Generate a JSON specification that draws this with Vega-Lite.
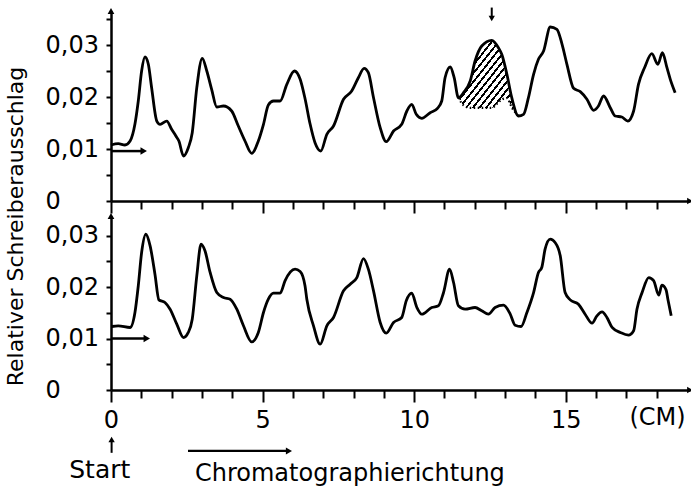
{
  "$schema": "https://vega.github.io/schema/vega-lite/v6.json",
  "autosize": {"type": "pad"},
  "padding": {"left": 3, "top": 6, "right": 0, "bottom": 0},
  "background": "white",
  "datasets": {
    "oben": [
      {"cm": 0.00, "wert": 0.01077}, {"cm": 0.24, "wert": 0.01102}, {"cm": 0.46, "wert": 0.01077}, {"cm": 0.63, "wert": 0.01154},
      {"cm": 0.79, "wert": 0.01481}, {"cm": 0.90, "wert": 0.01923}, {"cm": 1.01, "wert": 0.0250}, {"cm": 1.12, "wert": 0.02769},
      {"cm": 1.23, "wert": 0.02635}, {"cm": 1.34, "wert": 0.02179}, {"cm": 1.51, "wert": 0.01538}, {"cm": 1.62, "wert": 0.01475},
      {"cm": 1.84, "wert": 0.01538}, {"cm": 2.00, "wert": 0.01379}, {"cm": 2.14, "wert": 0.0125}, {"cm": 2.24, "wert": 0.01154},
      {"cm": 2.39, "wert": 0.00865}, {"cm": 2.55, "wert": 0.01025}, {"cm": 2.68, "wert": 0.01313}, {"cm": 2.83, "wert": 0.02179},
      {"cm": 3.01, "wert": 0.02744}, {"cm": 3.16, "wert": 0.0250}, {"cm": 3.32, "wert": 0.02148}, {"cm": 3.49, "wert": 0.01808},
      {"cm": 3.71, "wert": 0.01827}, {"cm": 3.98, "wert": 0.01731}, {"cm": 4.20, "wert": 0.01442}, {"cm": 4.42, "wert": 0.01154},
      {"cm": 4.64, "wert": 0.00917}, {"cm": 4.86, "wert": 0.01154}, {"cm": 5.03, "wert": 0.01475}, {"cm": 5.19, "wert": 0.01846},
      {"cm": 5.36, "wert": 0.01923}, {"cm": 5.58, "wert": 0.01923}, {"cm": 5.80, "wert": 0.02244}, {"cm": 6.05, "wert": 0.0250},
      {"cm": 6.24, "wert": 0.0234}, {"cm": 6.40, "wert": 0.01971}, {"cm": 6.57, "wert": 0.01475}, {"cm": 6.73, "wert": 0.01121},
      {"cm": 6.92, "wert": 0.00962}, {"cm": 7.12, "wert": 0.01283}, {"cm": 7.34, "wert": 0.01442}, {"cm": 7.67, "wert": 0.01956},
      {"cm": 7.94, "wert": 0.02115}, {"cm": 8.16, "wert": 0.02371}, {"cm": 8.35, "wert": 0.02552}, {"cm": 8.49, "wert": 0.02467},
      {"cm": 8.66, "wert": 0.01987}, {"cm": 8.88, "wert": 0.0141}, {"cm": 9.08, "wert": 0.0114}, {"cm": 9.32, "wert": 0.01346},
      {"cm": 9.59, "wert": 0.01475}, {"cm": 9.76, "wert": 0.01731}, {"cm": 9.92, "wert": 0.0186}, {"cm": 10.07, "wert": 0.01667},
      {"cm": 10.25, "wert": 0.0159}, {"cm": 10.53, "wert": 0.01698}, {"cm": 10.77, "wert": 0.01783}, {"cm": 10.91, "wert": 0.01923},
      {"cm": 11.02, "wert": 0.02371}, {"cm": 11.19, "wert": 0.02577}, {"cm": 11.32, "wert": 0.02371}, {"cm": 11.46, "wert": 0.01987},
      {"cm": 11.63, "wert": 0.02083}, {"cm": 11.85, "wert": 0.02308}, {"cm": 12.01, "wert": 0.02692}, {"cm": 12.23, "wert": 0.02981},
      {"cm": 12.56, "wert": 0.0309}, {"cm": 12.78, "wert": 0.02948}, {"cm": 12.89, "wert": 0.02821}, {"cm": 13.06, "wert": 0.02437},
      {"cm": 13.22, "wert": 0.01987}, {"cm": 13.44, "wert": 0.01635}, {"cm": 13.61, "wert": 0.01667}, {"cm": 13.77, "wert": 0.01987},
      {"cm": 13.94, "wert": 0.02437}, {"cm": 14.10, "wert": 0.02725}, {"cm": 14.27, "wert": 0.02885}, {"cm": 14.49, "wert": 0.03346},
      {"cm": 14.71, "wert": 0.03302}, {"cm": 14.88, "wert": 0.03013}, {"cm": 15.04, "wert": 0.02629}, {"cm": 15.26, "wert": 0.02167},
      {"cm": 15.48, "wert": 0.02102}, {"cm": 15.70, "wert": 0.01956}, {"cm": 15.92, "wert": 0.01744}, {"cm": 16.08, "wert": 0.01827},
      {"cm": 16.25, "wert": 0.02019}, {"cm": 16.47, "wert": 0.01794}, {"cm": 16.63, "wert": 0.01635}, {"cm": 16.85, "wert": 0.01615},
      {"cm": 17.05, "wert": 0.01538}, {"cm": 17.24, "wert": 0.01731}, {"cm": 17.40, "wert": 0.02244}, {"cm": 17.60, "wert": 0.02563},
      {"cm": 17.84, "wert": 0.02833}, {"cm": 18.04, "wert": 0.02629}, {"cm": 18.19, "wert": 0.02852}, {"cm": 18.34, "wert": 0.02563},
      {"cm": 18.45, "wert": 0.0234}, {"cm": 18.61, "wert": 0.02083}
    ],
    "flaeche": [
      {"cm": 11.46, "wert": 0.01987, "basis": 0.01987}, {"cm": 11.63, "wert": 0.02083, "basis": 0.0184},
      {"cm": 11.85, "wert": 0.02308, "basis": 0.0179}, {"cm": 12.01, "wert": 0.02692, "basis": 0.0179},
      {"cm": 12.23, "wert": 0.02981, "basis": 0.0179}, {"cm": 12.56, "wert": 0.0309, "basis": 0.0179},
      {"cm": 12.78, "wert": 0.02948, "basis": 0.0190}, {"cm": 12.89, "wert": 0.02821, "basis": 0.0195},
      {"cm": 13.06, "wert": 0.02437, "basis": 0.0198}, {"cm": 13.22, "wert": 0.01987, "basis": 0.0180},
      {"cm": 13.44, "wert": 0.01635, "basis": 0.01635}
    ],
    "unten": [
      {"cm": 0.02, "wert": 0.01233}, {"cm": 0.24, "wert": 0.01247}, {"cm": 0.63, "wert": 0.01214}, {"cm": 0.79, "wert": 0.01505},
      {"cm": 0.90, "wert": 0.02023}, {"cm": 1.01, "wert": 0.0267}, {"cm": 1.15, "wert": 0.03025}, {"cm": 1.29, "wert": 0.028},
      {"cm": 1.45, "wert": 0.02249}, {"cm": 1.58, "wert": 0.01751}, {"cm": 1.78, "wert": 0.01699}, {"cm": 1.95, "wert": 0.01569},
      {"cm": 2.17, "wert": 0.01278}, {"cm": 2.39, "wert": 0.01019}, {"cm": 2.55, "wert": 0.01117}, {"cm": 2.68, "wert": 0.01375},
      {"cm": 2.83, "wert": 0.02217}, {"cm": 2.97, "wert": 0.02831}, {"cm": 3.10, "wert": 0.02703}, {"cm": 3.27, "wert": 0.02282},
      {"cm": 3.49, "wert": 0.01893}, {"cm": 3.71, "wert": 0.01796}, {"cm": 3.93, "wert": 0.01763}, {"cm": 4.15, "wert": 0.01569},
      {"cm": 4.37, "wert": 0.01247}, {"cm": 4.64, "wert": 0.00936}, {"cm": 4.86, "wert": 0.01117}, {"cm": 5.03, "wert": 0.01505},
      {"cm": 5.19, "wert": 0.01763}, {"cm": 5.36, "wert": 0.0188}, {"cm": 5.58, "wert": 0.0188}, {"cm": 5.74, "wert": 0.0212},
      {"cm": 6.07, "wert": 0.02346}, {"cm": 6.24, "wert": 0.02301}, {"cm": 6.40, "wert": 0.02023}, {"cm": 6.46, "wert": 0.01763},
      {"cm": 6.68, "wert": 0.01247}, {"cm": 6.90, "wert": 0.00889}, {"cm": 7.12, "wert": 0.01247}, {"cm": 7.34, "wert": 0.01408},
      {"cm": 7.67, "wert": 0.01926}, {"cm": 7.89, "wert": 0.02054}, {"cm": 8.11, "wert": 0.02184}, {"cm": 8.33, "wert": 0.02553},
      {"cm": 8.49, "wert": 0.02346}, {"cm": 8.66, "wert": 0.01926}, {"cm": 8.88, "wert": 0.01311}, {"cm": 9.08, "wert": 0.01103},
      {"cm": 9.32, "wert": 0.01311}, {"cm": 9.59, "wert": 0.01408}, {"cm": 9.74, "wert": 0.01732}, {"cm": 9.92, "wert": 0.0188},
      {"cm": 10.09, "wert": 0.01602}, {"cm": 10.25, "wert": 0.01472}, {"cm": 10.58, "wert": 0.01602}, {"cm": 10.80, "wert": 0.01635},
      {"cm": 10.97, "wert": 0.01893}, {"cm": 11.17, "wert": 0.02346}, {"cm": 11.30, "wert": 0.02087}, {"cm": 11.46, "wert": 0.01635},
      {"cm": 11.68, "wert": 0.01569}, {"cm": 12.01, "wert": 0.01602}, {"cm": 12.23, "wert": 0.01538}, {"cm": 12.45, "wert": 0.01472},
      {"cm": 12.67, "wert": 0.01602}, {"cm": 12.95, "wert": 0.01647}, {"cm": 13.17, "wert": 0.01472}, {"cm": 13.33, "wert": 0.01258},
      {"cm": 13.53, "wert": 0.01233}, {"cm": 13.72, "wert": 0.01505}, {"cm": 13.94, "wert": 0.01893}, {"cm": 14.10, "wert": 0.02282},
      {"cm": 14.21, "wert": 0.02379}, {"cm": 14.32, "wert": 0.02734}, {"cm": 14.49, "wert": 0.02928}, {"cm": 14.65, "wert": 0.02864},
      {"cm": 14.82, "wert": 0.02606}, {"cm": 14.98, "wert": 0.01893}, {"cm": 15.15, "wert": 0.01751}, {"cm": 15.42, "wert": 0.01666},
      {"cm": 15.64, "wert": 0.01472}, {"cm": 15.87, "wert": 0.01297}, {"cm": 16.03, "wert": 0.01441}, {"cm": 16.20, "wert": 0.01518},
      {"cm": 16.36, "wert": 0.01408}, {"cm": 16.53, "wert": 0.01214}, {"cm": 16.80, "wert": 0.01117}, {"cm": 17.07, "wert": 0.01064},
      {"cm": 17.24, "wert": 0.0115}, {"cm": 17.35, "wert": 0.01569}, {"cm": 17.52, "wert": 0.01893}, {"cm": 17.74, "wert": 0.02184},
      {"cm": 17.90, "wert": 0.02124}, {"cm": 18.07, "wert": 0.01841}, {"cm": 18.17, "wert": 0.02035}, {"cm": 18.31, "wert": 0.01946},
      {"cm": 18.37, "wert": 0.01763}, {"cm": 18.48, "wert": 0.01441}
    ]
  },
  "spacing": 15,
  "bounds": "flush",
  "vconcat": [
    {
      "width": 579,
      "height": 190,
      "layer": [
        {
          "data": {"name": "flaeche"},
          "mark": {
            "type": "area",
            "interpolate": "monotone",
            "fill": {
              "gradient": "linear", "x1": 0, "y1": 0, "x2": 1, "y2": 1,
              "stops": [
                {"offset": 0, "color": "#000"}, {"offset": 0.02, "color": "#000"}, {"offset": 0.02, "color": "#fff"}, {"offset": 0.0556, "color": "#fff"},
                {"offset": 0.0556, "color": "#000"}, {"offset": 0.0756, "color": "#000"}, {"offset": 0.0756, "color": "#fff"}, {"offset": 0.1111, "color": "#fff"},
                {"offset": 0.1111, "color": "#000"}, {"offset": 0.1311, "color": "#000"}, {"offset": 0.1311, "color": "#fff"}, {"offset": 0.1667, "color": "#fff"},
                {"offset": 0.1667, "color": "#000"}, {"offset": 0.1867, "color": "#000"}, {"offset": 0.1867, "color": "#fff"}, {"offset": 0.2222, "color": "#fff"},
                {"offset": 0.2222, "color": "#000"}, {"offset": 0.2422, "color": "#000"}, {"offset": 0.2422, "color": "#fff"}, {"offset": 0.2778, "color": "#fff"},
                {"offset": 0.2778, "color": "#000"}, {"offset": 0.2978, "color": "#000"}, {"offset": 0.2978, "color": "#fff"}, {"offset": 0.3333, "color": "#fff"},
                {"offset": 0.3333, "color": "#000"}, {"offset": 0.3533, "color": "#000"}, {"offset": 0.3533, "color": "#fff"}, {"offset": 0.3889, "color": "#fff"},
                {"offset": 0.3889, "color": "#000"}, {"offset": 0.4089, "color": "#000"}, {"offset": 0.4089, "color": "#fff"}, {"offset": 0.4444, "color": "#fff"},
                {"offset": 0.4444, "color": "#000"}, {"offset": 0.4644, "color": "#000"}, {"offset": 0.4644, "color": "#fff"}, {"offset": 0.5, "color": "#fff"},
                {"offset": 0.5, "color": "#000"}, {"offset": 0.52, "color": "#000"}, {"offset": 0.52, "color": "#fff"}, {"offset": 0.5556, "color": "#fff"},
                {"offset": 0.5556, "color": "#000"}, {"offset": 0.5756, "color": "#000"}, {"offset": 0.5756, "color": "#fff"}, {"offset": 0.6111, "color": "#fff"},
                {"offset": 0.6111, "color": "#000"}, {"offset": 0.6311, "color": "#000"}, {"offset": 0.6311, "color": "#fff"}, {"offset": 0.6667, "color": "#fff"},
                {"offset": 0.6667, "color": "#000"}, {"offset": 0.6867, "color": "#000"}, {"offset": 0.6867, "color": "#fff"}, {"offset": 0.7222, "color": "#fff"},
                {"offset": 0.7222, "color": "#000"}, {"offset": 0.7422, "color": "#000"}, {"offset": 0.7422, "color": "#fff"}, {"offset": 0.7778, "color": "#fff"},
                {"offset": 0.7778, "color": "#000"}, {"offset": 0.7978, "color": "#000"}, {"offset": 0.7978, "color": "#fff"}, {"offset": 0.8333, "color": "#fff"},
                {"offset": 0.8333, "color": "#000"}, {"offset": 0.8533, "color": "#000"}, {"offset": 0.8533, "color": "#fff"}, {"offset": 0.8889, "color": "#fff"},
                {"offset": 0.8889, "color": "#000"}, {"offset": 0.9089, "color": "#000"}, {"offset": 0.9089, "color": "#fff"}, {"offset": 0.9444, "color": "#fff"},
                {"offset": 0.9444, "color": "#000"}, {"offset": 0.9644, "color": "#000"}, {"offset": 0.9644, "color": "#fff"}, {"offset": 1, "color": "#fff"}
              ]
            }
          },
          "encoding": {
            "x": {
              "field": "cm", "type": "quantitative",
              "scale": {"domain": [0, 19.1], "nice": false, "zero": false},
              "axis": {
                "values": [0, 1, 2, 3, 4, 5, 6, 7, 8, 9, 10, 11, 12, 13, 14, 15, 16, 17, 18],
                "tickCount": 40,
                "labels": false,
                "title": null,
                "tickSize": {"condition": {"test": "indexof([0, 5, 10, 15], datum.value) >= 0", "value": 12}, "value": 8}
              }
            },
            "y": {
              "field": "wert", "type": "quantitative",
              "scale": {"domain": [0, 0.03654], "nice": false},
              "axis": {
                "values": [0, 0.005, 0.01, 0.015, 0.02, 0.025, 0.03, 0.035],
                "tickCount": 40,
                "tickSize": 5,
                "labelAlign": "left",
                "labelBaseline": "middle",
                "labelPadding": 61,
                "labelOverlap": false,
                "labelExpr": "abs(datum.value * 100 - round(datum.value * 100)) < 0.000001 ? (datum.value == 0 ? '0' : replace(format(datum.value, '.2f'), '.', ',')) : ''",
                "title": null
              }
            },
            "y2": {"field": "basis"}
          }
        },
        {
          "data": {"name": "flaeche"},
          "mark": {"type": "line", "interpolate": "monotone", "color": "#000", "strokeWidth": 2.2, "strokeDash": [1.5, 2.5]},
          "encoding": {
            "x": {"field": "cm", "type": "quantitative"},
            "y": {"field": "basis", "type": "quantitative"}
          }
        },
        {
          "data": {"name": "oben"},
          "mark": {"type": "line", "interpolate": "monotone", "color": "#000", "strokeWidth": 2.8},
          "encoding": {
            "x": {"field": "cm", "type": "quantitative"},
            "y": {"field": "wert", "type": "quantitative"}
          }
        },
        {
          "data": {"values": [{}]},
          "mark": {"type": "rule", "color": "#000", "strokeWidth": 2.5},
          "encoding": {"x": {"datum": 0}, "x2": {"datum": 1.0}, "y": {"datum": 0.0096}}
        },
        {
          "data": {"values": [{}]},
          "mark": {"type": "point", "shape": "triangle-right", "filled": true, "size": 55, "color": "#000", "opacity": 1},
          "encoding": {"x": {"datum": 1.08}, "y": {"datum": 0.0096}}
        },
        {
          "data": {"values": [{}]},
          "mark": {"type": "point", "shape": "triangle-up", "filled": true, "size": 45, "color": "#000", "opacity": 1},
          "encoding": {"x": {"datum": 0}, "y": {"datum": 0.03654}}
        },
        {
          "data": {"values": [{}]},
          "mark": {"type": "point", "shape": "triangle-right", "filled": true, "size": 45, "color": "#000", "opacity": 1},
          "encoding": {"x": {"datum": 19.1}, "y": {"datum": 0}}
        },
        {
          "data": {"values": [{}]},
          "mark": {"type": "rule", "color": "#000", "strokeWidth": 2},
          "encoding": {"x": {"datum": 12.56}, "y": {"datum": 0.0372}, "y2": {"datum": 0.0353}}
        },
        {
          "data": {"values": [{}]},
          "mark": {"type": "point", "shape": "triangle-down", "filled": true, "size": 40, "color": "#000", "opacity": 1},
          "encoding": {"x": {"datum": 12.56}, "y": {"datum": 0.0351}}
        }
      ]
    },
    {
      "width": 579,
      "height": 174,
      "layer": [
        {
          "data": {"name": "unten"},
          "mark": {"type": "line", "interpolate": "monotone", "color": "#000", "strokeWidth": 2.8},
          "encoding": {
            "x": {
              "field": "cm", "type": "quantitative",
              "scale": {"domain": [0, 19.1], "nice": false, "zero": false},
              "axis": {
                "values": [0, 1, 2, 3, 4, 5, 6, 7, 8, 9, 10, 11, 12, 13, 14, 15, 16, 17, 18],
                "tickCount": 40,
                "tickSize": {"condition": {"test": "indexof([0, 5, 10, 15], datum.value) >= 0", "value": 12}, "value": 8},
                "labelExpr": "indexof([0, 5, 10, 15], datum.value) >= 0 ? format(datum.value, '.0f') : ''",
                "labelOverlap": false,
                "labelPadding": 6,
                "labelBaseline": "top",
                "title": "(CM)",
                "titleX": 546,
                "titleY": 15,
                "titleAlign": "center",
                "titleBaseline": "top"
              }
            },
            "y": {
              "field": "wert", "type": "quantitative",
              "scale": {"domain": [0, 0.03379], "nice": false},
              "axis": {
                "values": [0, 0.005, 0.01, 0.015, 0.02, 0.025, 0.03],
                "tickCount": 40,
                "tickSize": 5,
                "labelAlign": "left",
                "labelBaseline": "middle",
                "labelPadding": 61,
                "labelOverlap": false,
                "labelExpr": "abs(datum.value * 100 - round(datum.value * 100)) < 0.000001 ? (datum.value == 0 ? '0' : replace(format(datum.value, '.2f'), '.', ',')) : ''",
                "title": "Relativer Schreiberausschlag",
                "titleFontSize": 22,
                "titleAngle": 270,
                "titleAlign": "center",
                "titleBaseline": "alphabetic",
                "titleX": -89,
                "titleY": 10
              }
            }
          }
        },
        {
          "data": {"values": [{}]},
          "mark": {"type": "rule", "color": "#000", "strokeWidth": 2.5},
          "encoding": {"x": {"datum": 0}, "x2": {"datum": 1.12}, "y": {"datum": 0.0100}}
        },
        {
          "data": {"values": [{}]},
          "mark": {"type": "point", "shape": "triangle-right", "filled": true, "size": 55, "color": "#000", "opacity": 1},
          "encoding": {"x": {"datum": 1.18}, "y": {"datum": 0.0100}}
        },
        {
          "data": {"values": [{}]},
          "mark": {"type": "point", "shape": "triangle-up", "filled": true, "size": 45, "color": "#000", "opacity": 1},
          "encoding": {"x": {"datum": 0}, "y": {"datum": 0.03379}}
        },
        {
          "data": {"values": [{}]},
          "mark": {"type": "point", "shape": "triangle-right", "filled": true, "size": 45, "color": "#000", "opacity": 1},
          "encoding": {"x": {"datum": 19.1}, "y": {"datum": 0}}
        },
        {
          "data": {"values": [{}]},
          "mark": {"type": "rule", "color": "#000", "strokeWidth": 2},
          "encoding": {"x": {"datum": 0.02}, "y": {"datum": -0.0122}, "y2": {"datum": -0.0099}}
        },
        {
          "data": {"values": [{}]},
          "mark": {"type": "point", "shape": "triangle-up", "filled": true, "size": 40, "color": "#000", "opacity": 1},
          "encoding": {"x": {"datum": 0.02}, "y": {"datum": -0.0096}}
        },
        {
          "data": {"values": [{}]},
          "mark": {"type": "text", "fontSize": 25, "align": "center", "baseline": "alphabetic", "color": "#000"},
          "encoding": {"x": {"datum": -0.37}, "y": {"datum": -0.01709}, "text": {"value": "Start"}}
        },
        {
          "data": {"values": [{}]},
          "mark": {"type": "rule", "color": "#000", "strokeWidth": 2.2},
          "encoding": {"x": {"datum": 2.54}, "x2": {"datum": 5.8}, "y": {"datum": -0.01184}}
        },
        {
          "data": {"values": [{}]},
          "mark": {"type": "point", "shape": "triangle-right", "filled": true, "size": 50, "color": "#000", "opacity": 1},
          "encoding": {"x": {"datum": 5.87}, "y": {"datum": -0.01184}}
        },
        {
          "data": {"values": [{}]},
          "mark": {"type": "text", "fontSize": 24, "align": "left", "baseline": "alphabetic", "color": "#000"},
          "encoding": {"x": {"datum": 2.77}, "y": {"datum": -0.01767}, "text": {"value": "Chromatographierichtung"}}
        }
      ]
    }
  ],
  "config": {
    "font": "DejaVu Sans",
    "view": {"stroke": null},
    "axis": {
      "domainColor": "#000",
      "domainWidth": 2.5,
      "tickColor": "#000",
      "tickWidth": 2,
      "labelColor": "#000",
      "titleColor": "#000",
      "labelFont": "DejaVu Sans",
      "titleFont": "DejaVu Sans",
      "labelFontSize": 24,
      "titleFontSize": 24,
      "titleFontWeight": "normal",
      "grid": false,
      "labelFlush": false,
      "labelOverlap": false
    },
    "text": {"font": "DejaVu Sans"}
  }
}
